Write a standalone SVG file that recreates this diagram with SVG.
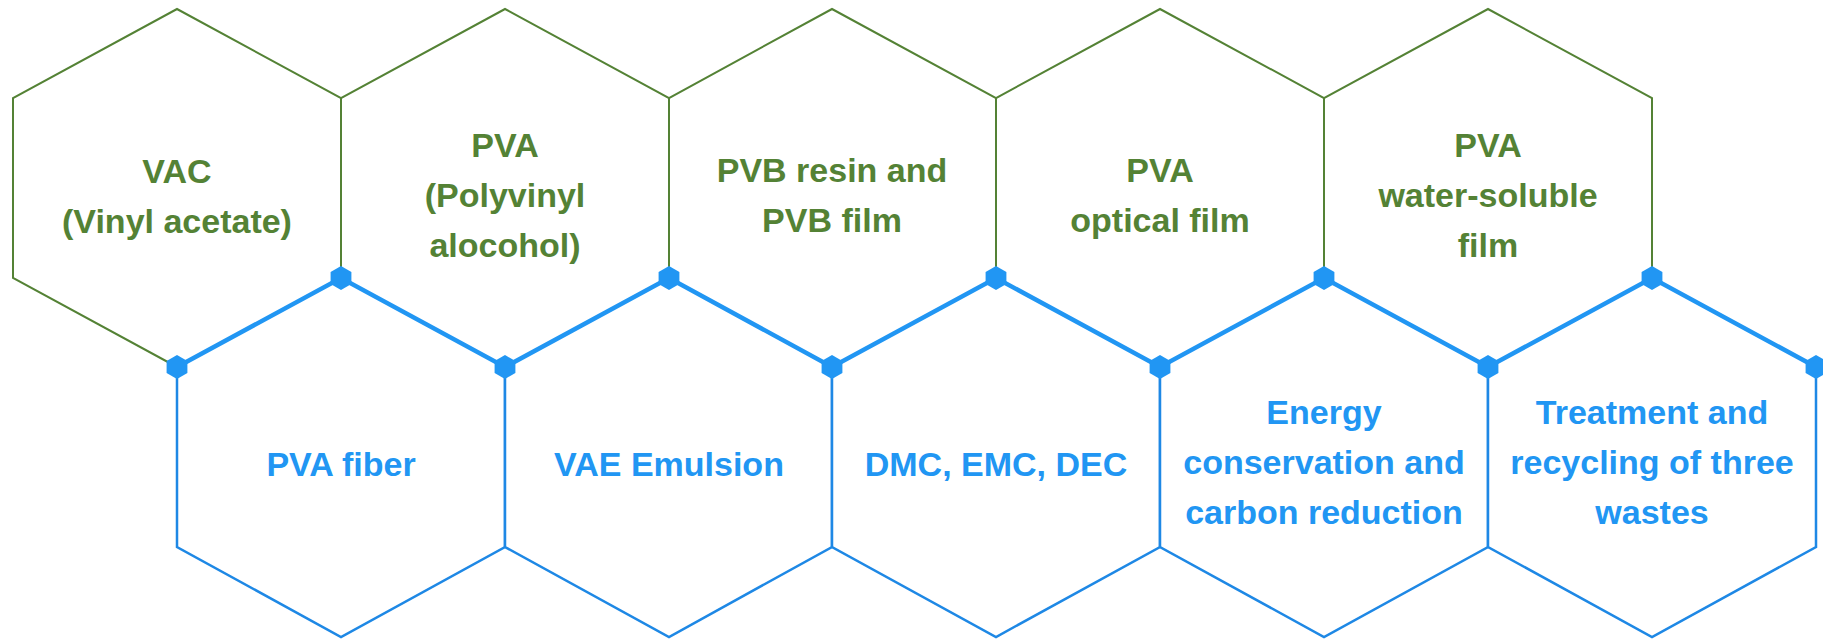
<svg xmlns="http://www.w3.org/2000/svg" xmlns:xlink="http://www.w3.org/1999/xlink" width="1823" height="639" viewBox="0 0 1823 639">
<style>
.top{fill:#ffffff;stroke:#548235;stroke-width:2;stroke-linejoin:miter}
.bot{fill:#ffffff;stroke:#1E88E5;stroke-width:2.5;stroke-linejoin:miter}
.tg{fill:#548235;font-family:"Liberation Sans",Arial,sans-serif;font-weight:bold;font-size:34px;text-anchor:middle}
.tb{fill:#2196F3;font-family:"Liberation Sans",Arial,sans-serif;font-weight:bold;font-size:34px;text-anchor:middle}
.zig{fill:none;stroke:#2196F3;stroke-width:4.5;stroke-linejoin:miter}
.mk{fill:#2196F3}
</style>
<defs>
<polygon id="m" class="mk" points="0,-12 10.4,-6 10.4,6 0,12 -10.4,6 -10.4,-6"/>
</defs>
<rect width="1823" height="639" fill="#ffffff"/>

<g id="node-pva-fiber">
<polygon class="bot" points="341,278 505,367 505,547 341,637 177,547 177,367"/>
<text class="tb" x="341" y="476">PVA fiber</text>
</g>
<g id="node-vae-emulsion">
<polygon class="bot" points="669,278 832,367 832,547 669,637 505,547 505,367"/>
<text class="tb" x="669" y="476">VAE Emulsion</text>
</g>
<g id="node-dmc">
<polygon class="bot" points="996,278 1160,367 1160,547 996,637 832,547 832,367"/>
<text class="tb" x="996" y="476">DMC, EMC, DEC</text>
</g>
<g id="node-energy">
<polygon class="bot" points="1324,278 1488,367 1488,547 1324,637 1160,547 1160,367"/>
<text class="tb" x="1324" y="424">Energy</text>
<text class="tb" x="1324" y="474">conservation and</text>
<text class="tb" x="1324" y="524">carbon reduction</text>
</g>
<g id="node-treatment">
<polygon class="bot" points="1652,278 1816,367 1816,547 1652,637 1488,547 1488,367"/>
<text class="tb" x="1652" y="424">Treatment and</text>
<text class="tb" x="1652" y="474">recycling of three</text>
<text class="tb" x="1652" y="524">wastes</text>
</g>

<g id="node-vac">
<polygon class="top" points="177,9 341,98 341,278 177,367 13,278 13,98"/>
<text class="tg" x="177" y="183">VAC</text>
<text class="tg" x="177" y="233">(Vinyl acetate)</text>
</g>
<g id="node-pva">
<polygon class="top" points="505,9 669,98 669,278 505,367 341,278 341,98"/>
<text class="tg" x="505" y="157">PVA</text>
<text class="tg" x="505" y="207">(Polyvinyl</text>
<text class="tg" x="505" y="257">alocohol)</text>
</g>
<g id="node-pvb">
<polygon class="top" points="832,9 996,98 996,278 832,367 669,278 669,98"/>
<text class="tg" x="832" y="182">PVB resin and</text>
<text class="tg" x="832" y="232">PVB film</text>
</g>
<g id="node-optical">
<polygon class="top" points="1160,9 1324,98 1324,278 1160,367 996,278 996,98"/>
<text class="tg" x="1160" y="182">PVA</text>
<text class="tg" x="1160" y="232">optical film</text>
</g>
<g id="node-water">
<polygon class="top" points="1488,9 1652,98 1652,278 1488,367 1324,278 1324,98"/>
<text class="tg" x="1488" y="157">PVA</text>
<text class="tg" x="1488" y="207">water-soluble</text>
<text class="tg" x="1488" y="257">film</text>
</g>

<g id="connectors">
<polyline class="zig" points="177,367 341,278 505,367 669,278 832,367 996,278 1160,367 1324,278 1488,367 1652,278 1816,367"/>
<use xlink:href="#m" x="177" y="367"/>
<use xlink:href="#m" x="341" y="278"/>
<use xlink:href="#m" x="505" y="367"/>
<use xlink:href="#m" x="669" y="278"/>
<use xlink:href="#m" x="832" y="367"/>
<use xlink:href="#m" x="996" y="278"/>
<use xlink:href="#m" x="1160" y="367"/>
<use xlink:href="#m" x="1324" y="278"/>
<use xlink:href="#m" x="1488" y="367"/>
<use xlink:href="#m" x="1652" y="278"/>
<use xlink:href="#m" x="1816" y="367"/>
</g>
</svg>
